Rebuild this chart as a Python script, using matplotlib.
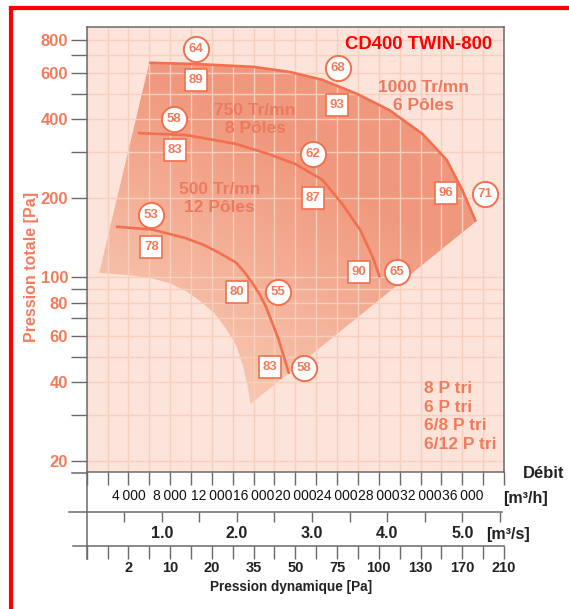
import matplotlib
matplotlib.use('Agg')
import matplotlib.pyplot as plt
import numpy as np
from matplotlib.lines import Line2D
from matplotlib.patches import Polygon
from matplotlib.colors import LinearSegmentedColormap

plt.rcParams['font.family'] = ['Liberation Sans', 'DejaVu Sans']

# fan curves, debit [m3/h] vs pression totale [Pa]
q_1000 = [6000, 10500, 16000, 19500, 22600, 25900, 29000, 32200, 34500, 36000, 37300]
p_1000 = [655, 648, 632, 604, 564, 499, 433, 351, 280, 215, 163]
q_750 = [4900, 9500, 14300, 17400, 20000, 22600, 24500, 26200, 27400, 28100]
p_750 = [354, 348, 322, 295, 270, 235, 190, 152, 120, 100]
q_500 = [2800, 6300, 9500, 11200, 12700, 14300, 15100, 15900, 16600, 17200, 17800, 18400, 19400]
p_500 = [156, 152, 141, 133, 124, 114, 105, 95, 86, 77, 67, 58, 43]

# lower edge of the working zone (from bottom point back to the left)
zone_q = [15700, 15400, 14950, 14300, 13300, 12200, 11100, 9500, 7900, 6050, 4050, 1200]
zone_p = [33.0, 39.0, 46.5, 55.4, 64.3, 73.3, 80.0, 88.9, 95.3, 99.6, 102, 104]

# circled values
circle_q = [10500, 24100, 38200, 8400, 21700, 29700, 6200, 18300, 20800]
circle_p = [741, 626, 208, 402, 294, 105, 172, 88, 45.4]
circle_txt = ['64', '68', '71', '58', '62', '65', '53', '55', '58']
# boxed values
square_q = [10500, 24000, 34400, 8500, 21700, 26100, 6200, 14400, 17600]
square_p = [562, 452, 210, 306, 201, 105, 131, 88.3, 45.8]
square_txt = ['89', '93', '96', '83', '87', '90', '78', '80', '83']

speed_q = [12700, 16150, 32300]
speed_p = [199, 399, 488]
speed_txt = ['500 Tr/mn\n12 Pôles', '750 Tr/mn\n8 Pôles', '1000 Tr/mn\n6 Pôles']

y_ticks = [20, 30, 40, 50, 60, 70, 80, 90, 100, 200, 300, 400, 500, 600, 700, 800]
y_labeled = [20, 40, 60, 80, 100, 200, 400, 600, 800]

qh_ticks = list(range(0, 40001, 2000))
qh_labeled = list(range(4000, 36001, 4000))
ms_ticks = [0.5, 1.0, 1.5, 2.0, 2.5, 3.0, 3.5, 4.0, 4.5, 5.0, 5.5]
ms_labeled = [1.0, 2.0, 3.0, 4.0, 5.0]
pd_labels = ['2', '10', '20', '35', '50', '75', '100', '130', '170', '210']

SALMON = '#F0704F'
LABEL = '#F27B5C'
AXC = '#6a6a6a'
W, H = 569, 609
X0, X1 = 86.7, 504.0   # plot left/right in px


def fx(px):
    return px / W


def fy(py):
    return 1 - py / H


fig = plt.figure(figsize=(W / 100, H / 100), dpi=100)
ax = fig.add_axes([fx(X0), fy(472), (X1 - X0) / W, (472 - 27) / H])
ax.set_facecolor('#FCE4DA')
ax.set_yscale('log')
ax.set_xlim(0, 40000)
ax.set_ylim(18.2, 896)
ax.minorticks_off()

# gradient filled working zone
verts = list(zip(q_1000, p_1000)) + list(zip(zone_q, zone_p))
zone = Polygon(verts, closed=True, transform=ax.transData, fc='none', ec='none')
ax.add_patch(zone)
cmap = LinearSegmentedColormap.from_list('z', ['#F8C6AF', '#F0987D'])
gx, gy = np.meshgrid(np.linspace(0, 1, 200), np.linspace(0, 1, 200))
im = ax.imshow(gx * 0.35 + gy * 0.65, extent=[0, 1, 0, 1], transform=ax.transAxes,
               origin='lower', cmap=cmap, vmin=0.25, vmax=0.64, aspect='auto',
               interpolation='bilinear', zorder=0.2)
im.set_clip_path(zone)

ax.set_axisbelow(True)
ax.grid(True, color='#F8CEBD', lw=1.0)

for q, p in [(q_1000, p_1000), (q_750, p_750), (q_500, p_500)]:
    ax.plot(q, p, color=SALMON, lw=1.9, solid_capstyle='butt', solid_joinstyle='round',
            zorder=3)

ax.scatter(circle_q, circle_p, s=330, marker='o', fc='white', ec=SALMON, lw=1.4, zorder=4)
for q, p, t in zip(circle_q, circle_p, circle_txt):
    ax.text(q, p, t, ha='center', va='center', fontsize=9.5, fontweight='bold',
            color=LABEL, zorder=5)
ax.scatter(square_q, square_p, s=235, marker='s', fc='white', ec=SALMON, lw=1.2, zorder=4)
for q, p, t in zip(square_q, square_p, square_txt):
    ax.text(q, p, t, ha='center', va='center', fontsize=9.5, fontweight='bold',
            color=LABEL, zorder=5)
for q, p, t in zip(speed_q, speed_p, speed_txt):
    ax.text(q, p, t, ha='center', va='center', fontsize=12.5, fontweight='bold',
            color='#EC7A5E', linespacing=1.25, zorder=5)

ax.text(0.9705, 0.961, 'CD400 TWIN-800', transform=ax.transAxes, ha='right', va='center',
        fontsize=13.3, fontweight='bold', color='#FF0000')
ax.text(0.808, 0.1243, '8 P tri\n6 P tri\n6/8 P tri\n6/12 P tri', transform=ax.transAxes,
        ha='left', va='center', fontsize=12.5, fontweight='bold', color=LABEL,
        linespacing=1.3)

for s in ax.spines.values():
    s.set_color(AXC)
    s.set_linewidth(1.1)

ax.set_yticks(y_ticks)
ax.set_yticklabels([str(v) if v in y_labeled else '' for v in y_ticks])
ax.tick_params(axis='y', length=11.3, width=1.0, color=AXC, pad=2, labelsize=12,
               labelcolor=LABEL)
for lab in ax.get_yticklabels():
    lab.set_fontweight('bold')
ax.set_ylabel('Pression totale [Pa]', fontsize=11.5, fontweight='bold', color=LABEL)
ax.yaxis.set_label_coords(-0.115, 0.46)

ax.set_xticks(qh_ticks)
ax.set_xticklabels([f'{v // 1000}\u2009000' if v in qh_labeled else '' for v in qh_ticks])
ax.tick_params(axis='x', length=9.4, width=1.0, color=AXC, pad=3, labelsize=10,
               labelcolor='#111111')


def row_axis(y_px, left_px, right_px):
    a = fig.add_axes([fx(left_px), fy(y_px), (right_px - left_px) / W, 0.0001])
    a.set_xlim((left_px - X0) / (X1 - X0) * 40000, (right_px - X0) / (X1 - X0) * 40000)
    a.set_yticks([])
    a.patch.set_visible(False)
    for k in ['top', 'left', 'right']:
        a.spines[k].set_visible(False)
    a.spines['bottom'].set_color(AXC)
    a.spines['bottom'].set_linewidth(1.1)
    return a


ax2 = row_axis(511.7, 69, 501.7)
ax2.set_xticks([v * 7200 for v in ms_ticks])
ax2.set_xticklabels([f'{v:.1f}' if v in ms_labeled else '' for v in ms_ticks])
ax2.tick_params(axis='x', length=7.2, width=1.0, color=AXC, pad=3, labelsize=11.5,
                labelcolor='#222222')
for lab in ax2.get_xticklabels():
    lab.set_fontweight('bold')

ax3 = row_axis(545.7, 72.7, X1)
ax3.set_xticks(qh_ticks)
ax3.set_xticklabels(['' if v % 4000 or v == 0 else pd_labels[v // 4000 - 1] for v in qh_ticks])
ax3.tick_params(axis='x', length=9.4, width=1.0, color=AXC, pad=1.5, labelsize=10.5,
                labelcolor='#222222')
for lab in ax3.get_xticklabels():
    lab.set_fontweight('bold')

# axis line extensions
fig.add_artist(Line2D([fx(71.7), fx(X0)], [fy(472.5)] * 2, color=AXC, lw=1.1))
fig.add_artist(Line2D([fx(X0)] * 2, [fy(472), fy(559)], color=AXC, lw=1.1))

fig.text(fx(523), fy(474), 'Débit', ha='left', va='center', fontsize=12,
         fontweight='bold', color='#222222')
fig.text(fx(503), fy(498), '[m³/h]', ha='left', va='center', fontsize=11.5,
         fontweight='bold', color='#222222')
fig.text(fx(486), fy(534), '[m³/s]', ha='left', va='center', fontsize=11.5,
         fontweight='bold', color='#222222')
fig.text(fx(291), fy(587), 'Pression dynamique [Pa]', ha='center', va='center',
         fontsize=9.8, fontweight='bold', color='#222222')

# red frame
fig.add_artist(Line2D([fx(10.5), 1], [fy(8)] * 2, color='#FF0000', lw=3))
fig.add_artist(Line2D([fx(10.5)] * 2, [fy(8), 0], color='#FF0000', lw=3))

fig.savefig('out.png', dpi=100)
